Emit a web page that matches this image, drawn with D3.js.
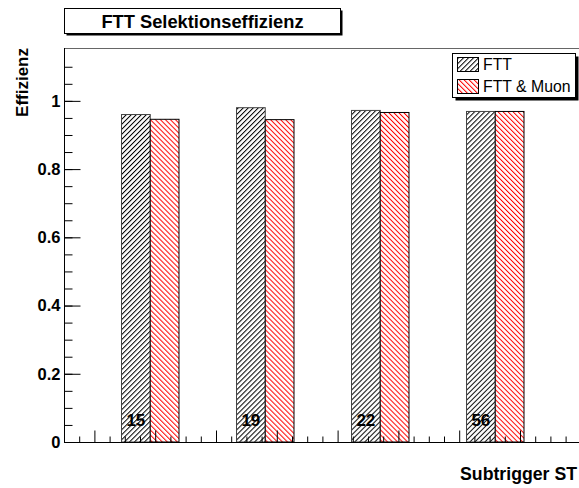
<!DOCTYPE html>
<html>
<head>
<meta charset="utf-8">
<script src="https://cdn.jsdelivr.net/npm/d3@7"></script>
<style>
    body { margin: 0; background: #fff; }
    svg { display: block; font-family: 'Liberation Sans', Arial, sans-serif; }
</style>
</head>
<body>
<div id="chart-div"></div>
<script>
//---------------------------------//
// Data                            //
//---------------------------------//

var categories = ['15', '19', '22', '56'];       // subtrigger numbers
var effFTT = [0.960, 0.980, 0.972, 0.969];       // FTT
var effFTTMuon = [0.946, 0.945, 0.966, 0.969];   // FTT & Muon
var seriesNames = ['FTT', 'FTT & Muon'];
var yTickLabels = [0, 0.2, 0.4, 0.6, 0.8, 1];

//---------------------------------//
// Chart                           //
//---------------------------------//

window.Chart = window.Chart || {};

Chart.init = function() {
    Chart.width = 579;
    Chart.height = 488;

    Chart.left = 64;
    Chart.top = 48;
    Chart.bottom = 442;
    Chart.binW = 115; // px per bin, frame runs past the right edge

    Chart.svg = d3.select('#chart-div').append('svg')
                  .attr('width', Chart.width)
                  .attr('height', Chart.height);

    Chart.x = d3.scaleLinear()
                .domain([0, 5])
                .range([Chart.left, Chart.left + 5*Chart.binW]);
    Chart.y = d3.scaleLinear()
                .domain([0, 1.155])
                .range([Chart.bottom, Chart.top]);

    Chart.initPatterns();
    Chart.drawBars();
    Chart.drawAxes();
    Chart.drawTitle();
    Chart.drawLegend();
};

Chart.initPatterns = function() {
    var defs = Chart.svg.append('defs');
    function hatch(id, color, angle) {
        var p = defs.append('pattern')
                    .attr('id', id)
                    .attr('patternUnits', 'userSpaceOnUse')
                    .attr('width', 3.54).attr('height', 10)
                    .attr('patternTransform', 'rotate(' + angle + ')');
        p.append('rect').attr('width', 3.54).attr('height', 10).attr('fill', '#fff');
        p.append('line')
         .attr('x1', 0.5).attr('y1', 0).attr('x2', 0.5).attr('y2', 10)
         .attr('stroke', color).attr('stroke-width', 1);
    }
    hatch('hatchFTT', '#000', 45);
    hatch('hatchMuon', '#ff0000', -45);
};

Chart.drawBars = function() {
    var g = Chart.svg.append('g');
    var x = Chart.x, y = Chart.y;

    // FTT bars: offset 0.5, width 0.25 of bin
    g.selectAll('.ftt').data(effFTT).enter().append('rect')
     .attr('class', 'ftt')
     .attr('x', function(d, i) { return x(i + 0.5); })
     .attr('width', function(d, i) { return x(i + 0.75) - x(i + 0.5); })
     .attr('y', function(d) { return y(d); })
     .attr('height', function(d) { return y(0) - y(d); })
     .attr('fill', 'url(#hatchFTT)')
     .attr('stroke', '#444').attr('stroke-width', 1);

    g.selectAll('.muon').data(effFTTMuon).enter().append('rect')
     .attr('class', 'muon')
     .attr('x', function(d, i) { return x(i + 0.75); })
     .attr('width', function(d, i) { return x(i + 1) - x(i + 0.75); })
     .attr('y', function(d) { return y(d); })
     .attr('height', function(d) { return y(0) - y(d); })
     .attr('fill', 'url(#hatchMuon)')
     .attr('stroke', '#000').attr('stroke-width', 1);

    // bin labels drawn inside the FTT bars
    g.selectAll('.lab').data(categories).enter().append('text')
     .attr('class', 'lab')
     .attr('x', function(d, i) { return x(i + 0.625); })
     .attr('y', 426)
     .attr('text-anchor', 'middle')
     .attr('font-size', '17px').attr('font-weight', 'bold')
     .text(function(d) { return d; });
};

Chart.drawAxes = function() {
    var svg = Chart.svg;

    // top frame line
    svg.append('line')
       .attr('x1', Chart.left).attr('x2', Chart.width)
       .attr('y1', Chart.top + 0.5).attr('y2', Chart.top + 0.5)
       .attr('stroke', '#666');

    // y axis: minor every 0.05, labelled every 0.2
    var yMinor = d3.range(0, 23).map(function(i) { return i*0.05; });
    var yAxisMinor = d3.axisLeft(Chart.y).tickValues(yMinor).tickSize(-8).tickFormat('');
    svg.append('g').attr('transform', 'translate(' + (Chart.left + 0.5) + ',0)')
       .call(yAxisMinor)
       .call(function(g) { g.select('.domain').remove(); });

    var yAxis = d3.axisLeft(Chart.y).tickValues(yTickLabels).tickSize(-16)
                  .tickFormat(d3.format('~g'));
    var ya = svg.append('g').attr('transform', 'translate(' + (Chart.left + 0.5) + ',0)')
                .call(yAxis);
    ya.select('.domain').remove();
    ya.selectAll('text')
      .attr('x', -4)
      .attr('font-size', '16.5px').attr('font-weight', 'bold')
      .attr('font-family', "'Liberation Sans', Arial, sans-serif")
      .attr('fill', '#000');
    ya.selectAll('line').attr('stroke', '#000');

    svg.append('line')
       .attr('x1', Chart.left + 0.5).attr('x2', Chart.left + 0.5)
       .attr('y1', Chart.top).attr('y2', Chart.bottom + 0.5)
       .attr('stroke', '#000');

    // x axis ticks (no labels), step 15.2 px, longer every 4th
    var xt = d3.scaleLinear().domain([0, 34]).range([Chart.left, Chart.left + 34*15.2]);
    var xAxis = d3.axisBottom(xt).tickValues(d3.range(1, 35)).tickFormat('')
                  .tickSizeOuter(0).tickSizeInner(0);
    var xa = svg.append('g').attr('transform', 'translate(0,' + (Chart.bottom + 0.5) + ')')
                .call(xAxis);
    xa.select('.domain').remove();
    xa.selectAll('.tick line')
      .attr('y2', function(d) { return d % 4 === 2 ? -12 : -6; })
      .attr('stroke', '#000');

    svg.append('line')
       .attr('x1', Chart.left).attr('x2', Chart.width)
       .attr('y1', Chart.bottom + 0.5).attr('y2', Chart.bottom + 0.5)
       .attr('stroke', '#000');

    // axis titles
    svg.append('text')
       .attr('transform', 'translate(28,' + Chart.top + ') rotate(-90)')
       .attr('text-anchor', 'end')
       .attr('font-size', '17px').attr('font-weight', 'bold')
       .text('Effizienz');

    svg.append('text')
       .attr('x', 577).attr('y', 480)
       .attr('text-anchor', 'end')
       .attr('font-size', '17.7px').attr('font-weight', 'bold')
       .text('Subtrigger ST');
};

Chart.drawTitle = function() {
    var svg = Chart.svg;
    svg.append('rect')
       .attr('x', 66.5).attr('y', 10.5).attr('width', 276).attr('height', 25)
       .attr('fill', '#000');
    svg.append('rect')
       .attr('x', 64.5).attr('y', 8.5).attr('width', 276).attr('height', 25)
       .attr('fill', '#fff').attr('stroke', '#000');
    svg.append('text')
       .attr('x', 202.5).attr('y', 28)
       .attr('text-anchor', 'middle')
       .attr('font-size', '18.3px').attr('font-weight', 'bold')
       .text('FTT Selektionseffizienz');
};

Chart.drawLegend = function() {
    var svg = Chart.svg;
    var lx = 452.5, ly = 53.5, lw = 123, lh = 44;
    svg.append('rect')
       .attr('x', lx + 3).attr('y', ly + 3).attr('width', lw).attr('height', lh)
       .attr('fill', '#000');
    svg.append('rect')
       .attr('x', lx).attr('y', ly).attr('width', lw).attr('height', lh)
       .attr('fill', '#fff').attr('stroke', '#000');

    var fills = ['url(#hatchFTT)', 'url(#hatchMuon)'];
    var ent = svg.selectAll('.leg').data(seriesNames).enter().append('g')
                 .attr('class', 'leg')
                 .attr('transform', function(d, i) { return 'translate(0,' + (i*22) + ')'; });
    ent.append('rect')
       .attr('x', 457.5).attr('y', 57.5).attr('width', 21).attr('height', 14)
       .attr('fill', function(d, i) { return fills[i]; })
       .attr('stroke', '#000');
    ent.append('text')
       .attr('x', 483).attr('y', 70)
       .attr('font-size', '15.8px')
       .text(function(d) { return d; });
};

document.addEventListener('DOMContentLoaded', Chart.init);
</script>
</body>
</html>
